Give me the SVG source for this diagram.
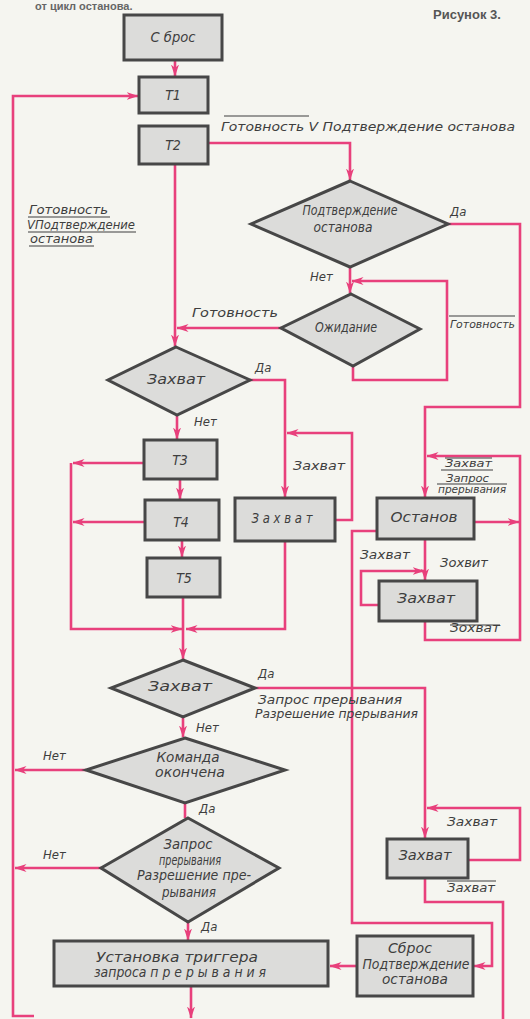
<svg xmlns="http://www.w3.org/2000/svg" width="530" height="1019" viewBox="0 0 530 1019">
<defs>
<marker id="ah" viewBox="0 0 12 8" refX="11.5" refY="4" markerWidth="12" markerHeight="8" markerUnits="userSpaceOnUse" orient="auto">
<path d="M0,0 L12,4 L0,8 L3.5,4 z" fill="#e8407c"/>
</marker>
<style>
.n{fill:#dcdcda;stroke:#474747;stroke-width:3}
.c path{fill:none;stroke:#e8407c;stroke-width:2.6}
.c .a{marker-end:url(#ah)}
.t{font-family:"DejaVu Sans Condensed","DejaVu Sans","Liberation Sans",sans-serif;font-style:italic;font-size:13px;fill:#3e3e3e}
.b{font-size:14px;text-anchor:middle}
.s{font-size:11px}
.ol{stroke:#3e3e3e;stroke-width:1.1}
</style>
</defs>
<rect x="0" y="0" width="530" height="1019" fill="#f5f5f0"/>
<text x="35" y="10" font-family="Liberation Sans, sans-serif" font-weight="bold" font-size="11" fill="#666">от цикл останова.</text>
<text x="433" y="19" font-family="Liberation Sans, sans-serif" font-weight="bold" font-size="13" fill="#555">Рисунок 3.</text>

<g class="c" id="connectors">
<path class="a" d="M175,60 V76"/>
<path class="a" d="M34,1016 H13 V96 H138"/>
<path class="a" d="M208,143 H350 V180"/>
<path class="a" d="M175,164 V346"/>
<path class="a" d="M448,224 H520 V407 H425 V497"/>
<path class="a" d="M350,267 V293"/>
<path class="a" d="M353,366 V380 H447 V281 H352"/>
<path class="a" d="M281,328 H177"/>
<path class="a" d="M250,380 H285 V497"/>
<path class="a" d="M177,415 V439"/>
<path class="a" d="M335,520 H352 V433 H287"/>
<path class="a" d="M180,479 V499"/>
<path class="a" d="M182,540 V557"/>
<path class="a" d="M144,463 H73"/>
<path class="a" d="M145,522 H73"/>
<path class="a" d="M71,463 V629 H182"/>
<path class="a" d="M285,541 V629 H186"/>
<path class="a" d="M183,597 V659"/>
<path class="a" d="M255,688 H425 V838"/>
<path class="a" d="M183,717 V737"/>
<path class="a" d="M86,770 H15"/>
<path d="M185,803 V818"/>
<path class="a" d="M101,868 H15"/>
<path class="a" d="M188,922 V940"/>
<path class="a" d="M191,986 V1018"/>
<path class="a" d="M357,966 H330"/>
<path class="a" d="M377,531 H352 V923 H492 V966 H474"/>
<path class="a" d="M474,522 H519"/>
<path class="a" d="M425,621 V640 H520 V456 H427"/>
<path class="a" d="M425,539 V580"/>
<path class="a" d="M379,605 H361 V571 H424"/>
<path class="a" d="M468,860 H520 V808 H427"/>
<path d="M425,878 V902 H503 V1019"/>
</g>

<g id="labels">
<text class="t" x="221" y="131" textLength="294" lengthAdjust="spacingAndGlyphs">Готовность V Подтверждение останова</text>
<line class="ol" x1="224" y1="116" x2="309" y2="116"/>
<text class="t" x="29" y="214" textLength="79" lengthAdjust="spacingAndGlyphs">Готовность</text>
<line class="ol" x1="28" y1="217" x2="110" y2="217"/>
<text class="t" x="27" y="229" textLength="108" lengthAdjust="spacingAndGlyphs">VПодтверждение</text>
<line class="ol" x1="28" y1="232" x2="136" y2="232"/>
<text class="t" x="30" y="243" textLength="63" lengthAdjust="spacingAndGlyphs">останова</text>
<line class="ol" x1="29" y1="246" x2="94" y2="246"/>
<text class="t" x="450" y="216">Да</text>
<text class="t" x="310" y="281">Нет</text>
<text class="t" x="192" y="317" textLength="86" lengthAdjust="spacingAndGlyphs">Готовность</text>
<text class="t s" x="450" y="328" textLength="65" lengthAdjust="spacingAndGlyphs">Готовность</text>
<line class="ol" x1="449" y1="316" x2="515" y2="316"/>
<text class="t" x="255" y="372">Да</text>
<text class="t" x="194" y="426">Нет</text>
<text class="t" x="293" y="470" textLength="52" lengthAdjust="spacingAndGlyphs">Захват</text>
<text class="t s" x="445" y="467" textLength="47" lengthAdjust="spacingAndGlyphs">Захват</text>
<text class="t s" x="446" y="482" textLength="43" lengthAdjust="spacingAndGlyphs">Запрос</text>
<text class="t s" x="438" y="493" textLength="68" lengthAdjust="spacingAndGlyphs">прерывания</text>
<line class="ol" x1="445" y1="458" x2="492" y2="458"/>
<line class="ol" x1="441" y1="470" x2="493" y2="470"/>
<line class="ol" x1="437" y1="484" x2="507" y2="484"/>
<text class="t" x="360" y="559" textLength="50" lengthAdjust="spacingAndGlyphs">Захват</text>
<text class="t" x="440" y="567" textLength="48" lengthAdjust="spacingAndGlyphs">Зохвит</text>
<text class="t" x="450" y="632" textLength="50" lengthAdjust="spacingAndGlyphs">Зохват</text>
<line class="ol" x1="450" y1="625" x2="500" y2="625"/>
<text class="t" x="258" y="678">Да</text>
<text class="t" x="258" y="704" textLength="144" lengthAdjust="spacingAndGlyphs">Запрос   прерывания</text>
<text class="t" x="255" y="718" textLength="163" lengthAdjust="spacingAndGlyphs">Разрешение прерывания</text>
<text class="t" x="196" y="732">Нет</text>
<text class="t" x="43" y="760">Нет</text>
<text class="t" x="199" y="813">Да</text>
<text class="t" x="43" y="859">Нет</text>
<text class="t" x="201" y="931">Да</text>
<text class="t" x="447" y="826" textLength="50" lengthAdjust="spacingAndGlyphs">Захват</text>
<text class="t" x="447" y="892" textLength="48" lengthAdjust="spacingAndGlyphs">Захват</text>
<line class="ol" x1="447" y1="881" x2="496" y2="881"/>
</g>

<g id="n-sbros"><rect class="n" x="124" y="15" width="98" height="45"/><text class="t b" x="173" y="42" textLength="45" lengthAdjust="spacingAndGlyphs">С брос</text></g>
<g id="n-t1"><rect class="n" x="139" y="77" width="69" height="36"/><text class="t b" x="173" y="100">Т1</text></g>
<g id="n-t2"><rect class="n" x="139" y="126" width="69" height="38"/><text class="t b" x="173" y="150">Т2</text></g>
<g id="n-podtv"><polygon class="n" points="350,181 448,224 350,267 251,224"/><text class="t b" x="350" y="215" textLength="95" lengthAdjust="spacingAndGlyphs">Подтверждение</text><text class="t b" x="343" y="232" textLength="59" lengthAdjust="spacingAndGlyphs">останова</text></g>
<g id="n-ozhid"><polygon class="n" points="351,294 420,329 353,366 281,328"/><text class="t b" x="346" y="332" textLength="62" lengthAdjust="spacingAndGlyphs">Ожидание</text></g>
<g id="n-zahvat1"><polygon class="n" points="176,347 250,380 177,415 108,380"/><text class="t b" x="176" y="384" textLength="58" lengthAdjust="spacingAndGlyphs">Захват</text></g>
<g id="n-t3"><rect class="n" x="144" y="440" width="73" height="39"/><text class="t b" x="180" y="465">Т3</text></g>
<g id="n-t4"><rect class="n" x="145" y="500" width="74" height="40"/><text class="t b" x="181" y="527">Т4</text></g>
<g id="n-t5"><rect class="n" x="147" y="558" width="73" height="39"/><text class="t b" x="184" y="583">Т5</text></g>
<g id="n-zahvat-mid"><rect class="n" x="235" y="498" width="100" height="43"/><text class="t b" x="282" y="523" textLength="61" lengthAdjust="spacingAndGlyphs">З а х в а т</text></g>
<g id="n-zahvat2"><polygon class="n" points="183,660 255,688 183,717 111,688"/><text class="t b" x="180" y="691" textLength="64" lengthAdjust="spacingAndGlyphs">Захват</text></g>
<g id="n-komanda"><polygon class="n" points="185,738 285,770 185,803 86,770"/><text class="t b" x="188" y="762" textLength="63" lengthAdjust="spacingAndGlyphs">Команда</text><text class="t b" x="190" y="777" textLength="70" lengthAdjust="spacingAndGlyphs">окончена</text></g>
<g id="n-zapros"><polygon class="n" points="188,818 279,868 188,922 101,868"/><text class="t b" x="188" y="849" textLength="49" lengthAdjust="spacingAndGlyphs">Запрос</text><text class="t b" x="190" y="865" textLength="62" lengthAdjust="spacingAndGlyphs">прерывания</text><text class="t b" x="194" y="880" textLength="114" lengthAdjust="spacingAndGlyphs">Разрешение пре-</text><text class="t b" x="189" y="897" textLength="54" lengthAdjust="spacingAndGlyphs">рывания</text></g>
<g id="n-ustanovka"><rect class="n" x="54" y="941" width="274" height="45"/><text class="t b" x="177" y="962" textLength="162" lengthAdjust="spacingAndGlyphs">Установка   триггера</text><text class="t b" x="180" y="977" textLength="172" lengthAdjust="spacingAndGlyphs">запроса   п р е р ы в а н и я</text></g>
<g id="n-ostanov"><rect class="n" x="377" y="498" width="97" height="41"/><text class="t b" x="424" y="522" textLength="67" lengthAdjust="spacingAndGlyphs">Останов</text></g>
<g id="n-zahvat-ru"><rect class="n" x="379" y="581" width="98" height="40"/><text class="t b" x="426" y="603" textLength="58" lengthAdjust="spacingAndGlyphs">Захват</text></g>
<g id="n-zahvat-rl"><rect class="n" x="387" y="839" width="81" height="39"/><text class="t b" x="425" y="860" textLength="53" lengthAdjust="spacingAndGlyphs">Захват</text></g>
<g id="n-sbros2"><rect class="n" x="357" y="936" width="116" height="60"/><text class="t b" x="410" y="953" textLength="44" lengthAdjust="spacingAndGlyphs">Сброс</text><text class="t b" x="416" y="969" textLength="107" lengthAdjust="spacingAndGlyphs">Подтверждение</text><text class="t b" x="415" y="984" textLength="66" lengthAdjust="spacingAndGlyphs">останова</text></g>
</svg>
